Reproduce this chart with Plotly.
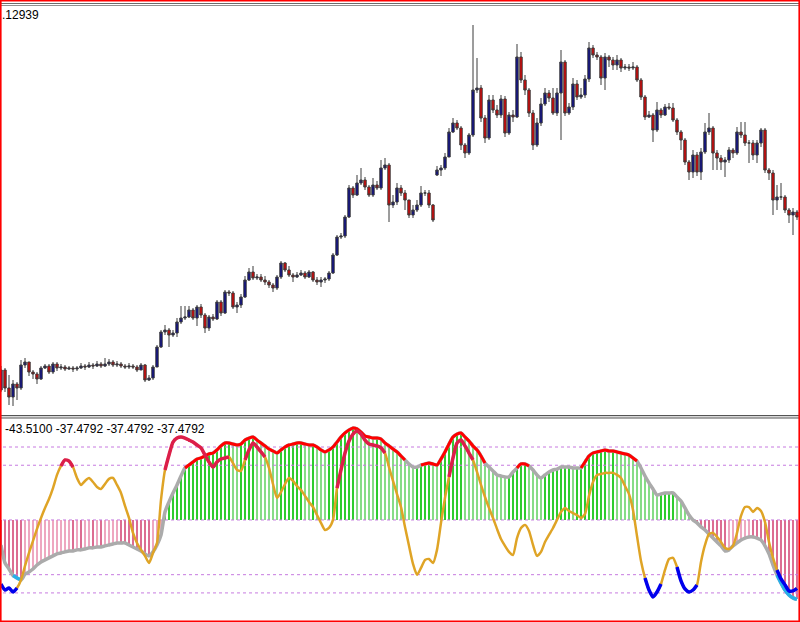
import plotly.graph_objects as go

N = 200
bars = list(range(N))

# ---------------- price data (candles) ----------------
first_open = 1.0916
gap_opens = {109: 1.1131}
close = [1.0936,1.0918,1.0909,1.0922,1.0918,1.0941,1.0944,1.0934,1.0932,1.0927,
         1.0938,1.0940,1.0934,1.0942,1.0938,1.0939,1.0937,1.0938,1.0937,1.0938,
         1.0940,1.0939,1.0941,1.0940,1.0942,1.0940,1.0942,1.0944,1.0941,1.0942,
         1.0940,1.0939,1.0940,1.0939,1.0936,1.0941,1.0926,1.0928,1.0939,1.0959,
         1.0974,1.0976,1.0971,1.0973,1.0984,1.0988,1.0989,1.0996,1.0988,1.0999,
         1.0991,1.0978,1.0989,1.0987,1.1004,1.0993,1.1014,1.1013,1.0999,1.1001,
         1.1009,1.1026,1.1034,1.1028,1.1029,1.1026,1.1024,1.1021,1.1018,1.1029,
         1.1043,1.1036,1.1031,1.1029,1.1031,1.1033,1.1029,1.1034,1.1026,1.1024,
         1.1026,1.1027,1.1033,1.1051,1.1069,1.1070,1.1089,1.1118,1.1111,1.1123,
         1.1126,1.1119,1.1111,1.1121,1.1118,1.1138,1.1141,1.1101,1.1104,1.1118,
         1.1113,1.1106,1.1091,1.1096,1.1101,1.1113,1.1113,1.1101,1.1086,1.1136,
         1.1138,1.1149,1.1174,1.1183,1.1178,1.1161,1.1153,1.1171,1.1216,1.1218,
         1.1188,1.1168,1.1206,1.1196,1.1191,1.1207,1.1173,1.1191,1.1189,1.1249,
         1.1226,1.1216,1.1193,1.1161,1.1183,1.1202,1.1213,1.1208,1.1193,1.1213,
         1.1244,1.1193,1.1199,1.1222,1.1209,1.1211,1.1227,1.1258,1.1251,1.1249,
         1.1228,1.1249,1.1246,1.1241,1.1246,1.1238,1.1239,1.1238,1.1239,1.1226,
         1.1209,1.1189,1.1191,1.1176,1.1196,1.1191,1.1199,1.1198,1.1186,1.1174,
         1.1166,1.1144,1.1134,1.1151,1.1134,1.1154,1.1174,1.1178,1.1153,1.1148,
         1.1144,1.1146,1.1156,1.1153,1.1174,1.1171,1.1163,1.1163,1.1151,1.1163,
         1.1176,1.1136,1.1133,1.1106,1.1109,1.1109,1.1096,1.1091,1.1094,1.1089]
high = [1.0940,1.0938,1.0931,1.0926,1.0924,1.0946,1.0948,1.0944,1.0936,1.0934,
        1.0940,1.0942,1.0942,1.0944,1.0944,1.0942,1.0941,1.0940,1.0940,1.0940,
        1.0943,1.0942,1.0944,1.0943,1.0945,1.0944,1.0948,1.0947,1.0946,1.0945,
        1.0944,1.0942,1.0943,1.0942,1.0941,1.0943,1.0942,1.0931,1.0941,1.0961,
        1.0976,1.0981,1.0978,1.0976,1.0988,1.1000,1.1000,1.1000,1.0998,1.1001,
        1.1002,1.0993,1.0991,1.0992,1.1006,1.1006,1.1016,1.1016,1.1015,1.1004,
        1.1012,1.1030,1.1038,1.1040,1.1032,1.1032,1.1030,1.1026,1.1023,1.1031,
        1.1045,1.1044,1.1040,1.1033,1.1034,1.1036,1.1035,1.1036,1.1035,1.1029,
        1.1029,1.1029,1.1035,1.1053,1.1071,1.1073,1.1091,1.1121,1.1120,1.1131,
        1.1138,1.1129,1.1121,1.1128,1.1125,1.1146,1.1148,1.1143,1.1111,1.1123,
        1.1121,1.1116,1.1106,1.1101,1.1106,1.1120,1.1116,1.1116,1.1102,1.1140,
        1.1141,1.1153,1.1178,1.1188,1.1186,1.1180,1.1163,1.1173,1.1281,1.1248,
        1.1221,1.1191,1.1211,1.1211,1.1201,1.1211,1.1210,1.1194,1.1196,1.1262,
        1.1254,1.1231,1.1218,1.1196,1.1188,1.1208,1.1218,1.1216,1.1218,1.1218,
        1.1256,1.1246,1.1203,1.1228,1.1226,1.1218,1.1231,1.1264,1.1261,1.1254,
        1.1251,1.1253,1.1251,1.1249,1.1251,1.1248,1.1242,1.1242,1.1244,1.1241,
        1.1228,1.1211,1.1195,1.1193,1.1204,1.1198,1.1202,1.1203,1.1203,1.1188,
        1.1176,1.1168,1.1146,1.1156,1.1154,1.1158,1.1183,1.1193,1.1180,1.1156,
        1.1151,1.1149,1.1159,1.1158,1.1179,1.1184,1.1184,1.1166,1.1166,1.1166,
        1.1178,1.1178,1.1138,1.1136,1.1121,1.1123,1.1111,1.1098,1.1098,1.1096]
low = [1.0914,1.0914,1.0901,1.0900,1.0906,1.0916,1.0938,1.0930,1.0927,1.0922,
       1.0926,1.0937,1.0932,1.0932,1.0935,1.0936,1.0935,1.0936,1.0934,1.0935,
       1.0937,1.0936,1.0938,1.0937,1.0939,1.0938,1.0939,1.0940,1.0939,1.0939,
       1.0938,1.0937,1.0937,1.0937,1.0934,1.0936,1.0924,1.0925,1.0926,1.0939,
       1.0958,1.0971,1.0959,1.0969,1.0969,1.0982,1.0986,1.0988,1.0986,1.0980,
       1.0988,1.0973,1.0975,1.0985,1.0986,1.0990,1.0992,1.1010,1.0997,1.0993,
       1.0998,1.1008,1.1025,1.1026,1.1026,1.1024,1.1021,1.1018,1.1014,1.1016,
       1.1027,1.1034,1.1029,1.1024,1.1028,1.1030,1.1027,1.1028,1.1024,1.1021,
       1.1019,1.1023,1.1025,1.1032,1.1050,1.1067,1.1068,1.1088,1.1108,1.1110,
       1.1121,1.1116,1.1109,1.1109,1.1116,1.1116,1.1136,1.1084,1.1098,1.1101,
       1.1110,1.1096,1.1088,1.1088,1.1094,1.1099,1.1110,1.1098,1.1084,1.1130,
       1.1130,1.1136,1.1149,1.1173,1.1176,1.1156,1.1148,1.1151,1.1169,1.1213,
       1.1184,1.1163,1.1166,1.1193,1.1188,1.1188,1.1169,1.1171,1.1184,1.1188,
       1.1223,1.1211,1.1189,1.1156,1.1159,1.1180,1.1200,1.1204,1.1191,1.1190,
       1.1166,1.1190,1.1191,1.1196,1.1206,1.1207,1.1208,1.1224,1.1248,1.1246,
       1.1221,1.1216,1.1239,1.1236,1.1236,1.1234,1.1236,1.1235,1.1236,1.1224,
       1.1206,1.1186,1.1188,1.1164,1.1174,1.1188,1.1190,1.1196,1.1184,1.1171,
       1.1156,1.1141,1.1126,1.1128,1.1130,1.1126,1.1152,1.1171,1.1136,1.1136,
       1.1136,1.1129,1.1143,1.1148,1.1151,1.1168,1.1160,1.1143,1.1146,1.1143,
       1.1159,1.1133,1.1126,1.1091,1.1096,1.1106,1.1093,1.1083,1.1071,1.1086]
price_label = ".12939"

# ---------------- indicator data ----------------
hist = [-13.7,-23.6,-26.9,-30.5,-31.8,-32.9,-29.8,-28.5,-26.9,-24.7,
        -23.0,-21.9,-20.8,-19.7,-18.6,-18.1,-17.5,-17.0,-17.0,-16.4,
        -16.4,-15.9,-15.3,-15.3,-14.8,-14.8,-14.2,-13.7,-13.2,-12.6,
        -12.6,-12.6,-13.7,-14.8,-15.9,-17.0,-18.6,-19.7,-17.5,-13.7,
        -8.2,4.4,9.9,14.8,19.2,24.1,28.5,30.1,31.8,33.4,
        34.0,35.1,36.2,36.7,38.4,40.6,42.2,42.2,41.6,41.1,
        41.6,43.8,44.9,45.5,43.8,42.2,40.6,38.9,37.8,36.7,
        38.4,40.0,41.1,41.6,42.2,42.2,41.6,41.1,41.1,40.0,
        38.4,37.3,38.4,40.0,42.7,45.5,47.7,49.3,50.4,49.9,
        48.2,46.0,45.5,44.9,44.9,44.4,42.2,40.6,38.9,37.3,
        35.1,32.9,30.7,29.0,29.0,30.1,30.7,31.2,30.7,30.1,
        33.4,37.3,41.6,45.5,47.1,47.7,45.5,43.3,40.6,38.4,
        35.1,31.2,29.0,26.9,24.7,24.1,23.6,23.6,26.3,28.5,
        30.7,30.7,29.6,27.4,24.7,23.0,24.7,26.3,27.4,27.9,
        29.0,29.0,29.0,28.5,28.5,28.5,31.8,35.1,36.7,37.3,
        37.8,38.4,37.8,37.8,37.3,36.7,36.2,35.6,34.0,32.3,
        28.5,24.1,20.3,17.0,13.7,14.2,14.8,14.8,14.8,12.6,
        10.4,6.6,2.7,0.0,-1.6,-3.8,-5.5,-7.7,-9.9,-12.1,
        -14.2,-17.0,-16.4,-14.2,-12.6,-11.0,-9.9,-9.3,-9.3,-9.9,
        -11.0,-14.2,-18.6,-24.7,-30.1,-34.5,-38.4,-41.1,-42.7,-43.51]
signal = [-35.1,-38.4,-37.3,-39.5,-37.3,-32.9,-25.2,-18.1,-11.5,-4.9,
          1.1,6.6,11.5,17.5,24.7,29.6,32.9,32.3,29.0,23.0,
          19.2,21.4,23.0,20.8,18.1,17.0,19.7,22.5,23.0,19.2,
          14.8,7.7,1.1,-7.1,-12.6,-16.4,-19.7,-23.6,-18.1,-12.6,
          11.0,27.4,35.6,42.7,44.9,45.5,44.9,43.8,42.7,41.1,
          39.5,35.6,31.8,29.0,31.8,33.4,34.0,34.5,31.2,27.4,
          26.9,32.9,38.4,42.2,40.0,37.3,34.5,28.5,19.7,12.1,
          15.3,19.7,23.0,21.4,18.6,16.4,13.2,9.9,7.1,2.7,
          -1.6,-5.5,-4.4,0.0,17.5,27.4,36.7,43.3,47.1,48.8,
          47.1,43.8,41.6,41.1,40.6,39.5,36.7,29.0,21.4,14.2,
          7.1,-3.8,-14.2,-24.1,-30.1,-26.3,-21.9,-21.4,-23.6,-16.4,
          -1.6,12.1,23.6,34.0,42.2,43.8,40.6,36.7,32.9,26.3,
          19.2,12.6,6.6,1.1,-4.9,-10.4,-14.2,-17.5,-19.2,-9.9,
          -4.4,-2.7,-6.0,-13.7,-19.7,-17.5,-12.1,-8.2,-4.4,0.0,
          4.4,6.6,4.9,3.8,2.7,1.1,3.3,13.2,20.8,24.7,
          25.2,25.8,25.8,25.8,24.7,23.0,18.6,14.2,5.5,-8.8,
          -22.5,-31.8,-38.4,-42.2,-39.5,-35.1,-27.4,-21.4,-20.8,-25.8,
          -33.4,-37.8,-39.5,-38.4,-35.6,-23.0,-13.7,-7.7,-7.1,-9.3,
          -12.1,-15.3,-15.9,-14.2,-7.1,2.2,7.1,7.1,4.4,6.6,
          4.9,-1.1,-12.1,-20.8,-27.4,-32.3,-35.6,-38.9,-38.9,-37.4792]
levels = [40, 30, 0, -30, -40]

# signal-state periods (bar index ranges, inclusive)
hist_hot = [(46, 101), (105, 121), (129, 132), (145, 159)]
hist_cold = [(3, 5), (194, 199)]
signal_hot = [(15, 18), (41, 57), (61, 66), (84, 96), (112, 118)]
signal_cold = [(0, 4), (161, 165), (169, 174), (194, 199)]

# ---------------- build ----------------
opens = []
for i in range(N):
    if i == 0:
        opens.append(first_open)
    elif i in gap_opens:
        opens.append(gap_opens[i])
    else:
        opens.append(close[i - 1])

def masked(values, segs):
    out = [None] * len(values)
    for a, b in segs:
        for k in range(a, b + 1):
            out[k] = values[k]
    return out

bar_colors = []
for i, v in enumerate(hist):
    prev = hist[i - 1] if i > 0 else v
    if v >= 0:
        bar_colors.append("#2ecc2e" if v >= prev else "#86dc86")
    else:
        bar_colors.append("#dc6d92" if v <= prev else "#eea7c0")

fig = go.Figure()

fig.add_trace(go.Candlestick(
    x=bars, open=opens, high=high, low=low, close=close,
    increasing=dict(fillcolor="#0a0a8c", line=dict(color="#3a3a3a", width=1)),
    decreasing=dict(fillcolor="#e00000", line=dict(color="#3a3a3a", width=1)),
    whiskerwidth=0, xaxis="x", yaxis="y", showlegend=False, hoverinfo="skip"))

fig.add_trace(go.Bar(x=bars, y=hist, marker=dict(color=bar_colors, line=dict(width=0)),
                     width=0.6, xaxis="x2", yaxis="y2", showlegend=False, hoverinfo="skip"))

for lv in levels:
    fig.add_trace(go.Scatter(x=[-1, N], y=[lv, lv], mode="lines",
                             line=dict(color="#c77be0", width=1, dash="3px,3px"),
                             xaxis="x2", yaxis="y2", showlegend=False, hoverinfo="skip"))

spl = dict(shape="spline", smoothing=0.6)
fig.add_trace(go.Scatter(x=bars, y=hist, mode="lines", line=dict(color="#ababab", width=3.5, **spl),
                         xaxis="x2", yaxis="y2", showlegend=False, hoverinfo="skip"))
fig.add_trace(go.Scatter(x=bars, y=masked(hist, hist_hot), mode="lines",
                         line=dict(color="#ff0000", width=3, **spl),
                         xaxis="x2", yaxis="y2", showlegend=False, hoverinfo="skip"))
fig.add_trace(go.Scatter(x=bars, y=masked(hist, hist_cold), mode="lines",
                         line=dict(color="#29b0e8", width=3.5, **spl),
                         xaxis="x2", yaxis="y2", showlegend=False, hoverinfo="skip"))
fig.add_trace(go.Scatter(x=bars, y=signal, mode="lines", line=dict(color="#dfa426", width=2.5, **spl),
                         xaxis="x2", yaxis="y2", showlegend=False, hoverinfo="skip"))
fig.add_trace(go.Scatter(x=bars, y=masked(signal, signal_hot), mode="lines",
                         line=dict(color="#dc1e4a", width=3.5, **spl),
                         xaxis="x2", yaxis="y2", showlegend=False, hoverinfo="skip"))
fig.add_trace(go.Scatter(x=bars, y=masked(signal, signal_cold), mode="lines",
                         line=dict(color="#0000ee", width=3.5, **spl),
                         xaxis="x2", yaxis="y2", showlegend=False, hoverinfo="skip"))

W, H = 800, 622
def py(px):
    return 1 - px / H

top_dom = [py(413), py(6)]
bot_dom = [py(619), py(418)]
xr = [-0.25, N - 0.25]

ax_common = dict(showgrid=False, zeroline=False, showticklabels=False, ticks="", showline=False, fixedrange=True)
fig.update_layout(
    width=W, height=H, margin=dict(l=0, r=0, t=0, b=0),
    paper_bgcolor="white", plot_bgcolor="white",
    xaxis=dict(domain=[0, 1], range=xr, rangeslider=dict(visible=False), anchor="y", **ax_common),
    yaxis=dict(domain=top_dom, range=[1.0893, 1.1300], anchor="x", **ax_common),
    xaxis2=dict(domain=[0, 1], range=xr, anchor="y2", **ax_common),
    yaxis2=dict(domain=bot_dom, range=[-54.3, 55.9], anchor="x2", **ax_common),
    bargap=0, boxgap=0.15,
    font=dict(family="Liberation Sans, Arial, sans-serif", color="#000000"),
)

label = f"{hist[-1]:.4f} {signal[-1]:.4f} {signal[-1]:.4f} {signal[-1]:.4f}"
fig.add_annotation(x=3 / W, y=py(420), xref="paper", yref="paper", text=label, showarrow=False,
                   xanchor="left", yanchor="top", font=dict(size=12, color="#000000"))
fig.add_annotation(x=0 / W, y=py(6), xref="paper", yref="paper", text=price_label, showarrow=False,
                   xanchor="left", yanchor="top", font=dict(size=12, color="#000000"))

shapes = []
def hline(ypx, color, w=1, x0=0, x1=W):
    shapes.append(dict(type="line", xref="paper", yref="paper", x0=x0 / W, x1=x1 / W,
                       y0=py(ypx), y1=py(ypx), line=dict(color=color, width=w)))
def vline(xpx, color, w=1, y0=0, y1=H):
    shapes.append(dict(type="line", xref="paper", yref="paper", x0=xpx / W, x1=xpx / W,
                       y0=py(y0), y1=py(y1), line=dict(color=color, width=w)))

hline(3.5, "#6a6a6a", 1)
hline(5.5, "#909090", 1)
hline(415.5, "#555555", 1.2)
hline(416.8, "#c8c8c8", 1)
hline(418, "#555555", 1.2)
hline(0.8, "#ff0000", 1.6)
hline(621.2, "#ff0000", 1.6)
vline(0.8, "#ff0000", 1.6)
vline(799.2, "#ff0000", 1.6)
fig.update_layout(shapes=shapes)

fig.write_html("out.html", config={"displayModeBar": False},
               post_script="document.body.style.margin='0';document.body.style.overflow='hidden';")
